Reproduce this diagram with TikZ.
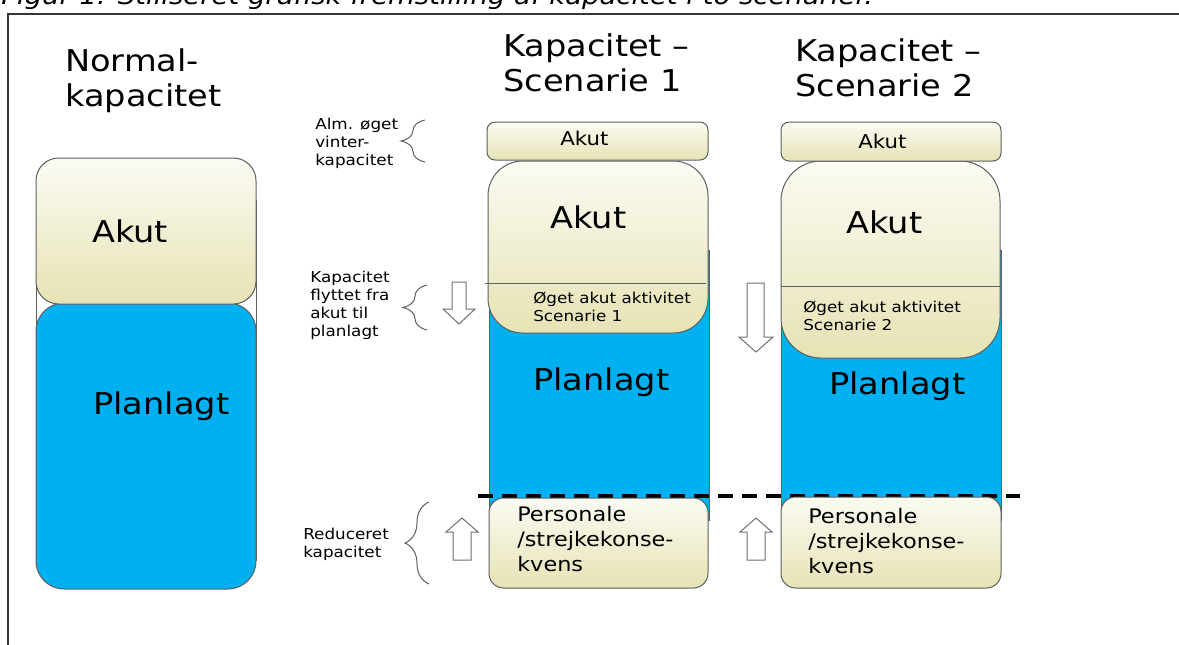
\documentclass[tikz,border=0pt]{standalone}
\usepackage{fontspec}
\setmainfont{DejaVu Sans}[FakeStretch=1.12]
\usetikzlibrary{decorations.pathreplacing}
\definecolor{blueC}{HTML}{00B0F0}
\definecolor{creamT}{HTML}{FBFBF3}
\definecolor{creamB}{HTML}{E6E3B4}
\definecolor{edgeC}{HTML}{5F5F5F}
\definecolor{arrowC}{HTML}{707070}
\definecolor{frameC}{HTML}{353535}
\begin{document}
\begin{tikzpicture}[x=0.75pt,y=-0.75pt,
  txt/.style={anchor=base west, inner sep=0pt, align=left},
  headfont/.style={font=\fontsize{22.5}{26.25}\selectfont},
  bigfont/.style={font=\fontsize{22.5}{26.25}\selectfont},
  smallakut/.style={font=\fontsize{14.25}{17}\selectfont},
  notefont/.style={font=\fontsize{11.25}{13.5}\selectfont},
  oegetfont/.style={font=\fontsize{11.25}{14}\selectfont},
  persfont/.style={font=\fontsize{15}{18.5}\selectfont},
  boxshade/.style={top color=creamT, bottom color=creamB, draw=edgeC, line width=0.75pt},
  bluebox/.style={fill=blueC, draw=edgeC, line width=0.75pt},
  blockarrow/.style={draw=arrowC, fill=white, line width=0.75pt},
  bracestyle/.style={draw=edgeC, line width=0.75pt, decorate, decoration={brace, amplitude=18pt, aspect=0.5}},
  divline/.style={draw=edgeC, line width=0.6pt},
]
\useasboundingbox (0,0) rectangle (1179,644);
\fill[white] (0,0) rectangle (1179,644);

% caption (cut off at the top)
\node[txt, font=\fontsize{18.4}{20}\selectfont\itshape] (cap) at (1,4) {Figur 1: Stiliseret grafisk fremstilling af kapacitet i to scenarier.};

% frame
\draw[frameC, line width=1.5pt] (7.5,700) -- (7.5,13.5) -- (1250,13.5);

% ---------- Normal column ----------
\draw[edgeC, line width=0.6pt] (36,200) rectangle (256,560);
\path[bluebox, rounded corners=21pt] (36,303) rectangle (256,589);
\path[boxshade, rounded corners=17pt] (36,158) rectangle (256,304);

\node[txt, headfont] (hnorm) at (65,106.7) {Normal-\\kapacitet};
\node[txt, bigfont] (nakut) at (92,242) {Akut};
\node[txt, bigfont] (nplan) at (93,414) {Planlagt};

% ---------- Scenario 1 ----------
\path[bluebox] (489,250) rectangle (709,520);
\path[boxshade, rounded corners=26pt] (488,161) rectangle (708,333);
\draw[divline] (485,283) -- (706,283);
\path[boxshade, rounded corners=6pt] (487,122) rectangle (708,160);

% ---------- Scenario 2 ----------
\path[bluebox] (781,250) rectangle (1001,520);
\path[boxshade, rounded corners=30pt] (781,161) rectangle (1000,358);
\draw[divline] (781,286) -- (1000,286);
\path[boxshade, rounded corners=6pt] (781,122) rectangle (1001,161);

% dashed line
\draw[black, line width=2.4pt, dash pattern=on 11pt off 7pt] (478,496) -- (1020,496);

% Personale boxes
\path[boxshade, rounded corners=11pt] (489,498) rectangle (708,588);
\path[boxshade, rounded corners=11pt] (781,497) rectangle (1001,588);

% headings
\node[txt, headfont] (h1) at (503,91.7) {Kapacitet –\\Scenarie 1};
\node[txt, headfont] (h2) at (795,96) {Kapacitet –\\Scenarie 2};

% scenario 1 texts
\node[txt, smallakut] (s1top) at (560,145) {Akut};
\node[txt, bigfont] (s1akut) at (550,228) {Akut};
\node[txt, oegetfont] (s1oeget) at (533,321.7) {Øget akut aktivitet\\Scenarie 1};
\node[txt, bigfont] (s1plan) at (533,390) {Planlagt};
\node[txt, persfont] (s1pers) at (517,571.3) {Personale\\/strejkekonse-\\kvens};

% scenario 2 texts
\node[txt, smallakut] (s2top) at (858,148) {Akut};
\node[txt, bigfont] (s2akut) at (846,233) {Akut};
\node[txt, oegetfont] (s2oeget) at (803,330.7) {Øget akut aktivitet\\Scenarie 2};
\node[txt, bigfont] (s2plan) at (829,394) {Planlagt};
\node[txt, persfont] (s2pers) at (808,573.3) {Personale\\/strejkekonse-\\kvens};

% left annotations
\node[txt, notefont] (n1) at (315,165) {Alm. øget\\vinter-\\kapacitet};
\node[txt, notefont] (n2) at (310,336) {Kapacitet\\flyttet fra\\akut til\\planlagt};
\node[txt, notefont] (n3) at (303,557) {Reduceret\\kapacitet};

% braces
\draw[bracestyle] (425,162) -- (425,120);
\draw[bracestyle] (427,330) -- (427,285);
\draw[bracestyle] (429,584) -- (429,502);

% block arrows
\draw[blockarrow] (452,282) -- (466,282) -- (466,309) -- (475,309) -- (459,324) -- (443,309) -- (452,309) -- cycle;
\draw[blockarrow] (747,283) -- (764,283) -- (764,337) -- (773,337) -- (756,352) -- (739,337) -- (747,337) -- cycle;
\draw[blockarrow] (453,560) -- (471,560) -- (471,532) -- (478,532) -- (462,518) -- (446,532) -- (453,532) -- cycle;
\draw[blockarrow] (747,560) -- (765,560) -- (765,532) -- (772,532) -- (756,518) -- (740,532) -- (747,532) -- cycle;
\end{tikzpicture}
\end{document}
